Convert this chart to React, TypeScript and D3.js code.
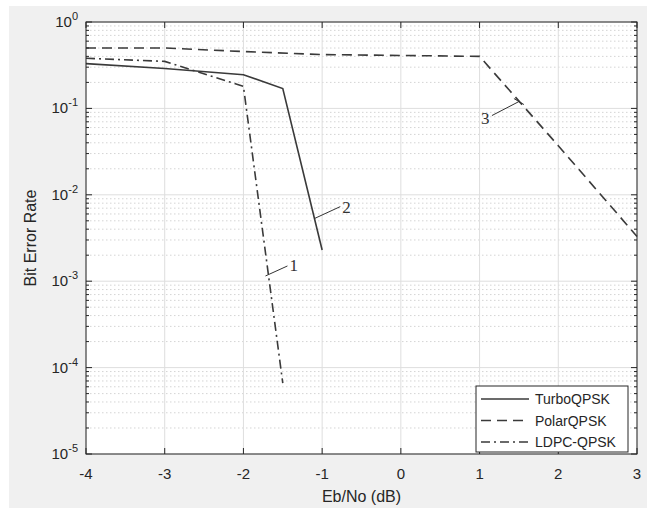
import React from "react";
import * as d3 from "d3";

const ebno = [-4, -3, -2, -1.5, -1];
const turbo = [0.33, 0.29, 0.245, 0.17, 0.0023];
const polarX = [-4, -3, -2, -1, 0, 1, 2, 3];
const polar = [0.5, 0.5, 0.455, 0.42, 0.41, 0.4, 0.037, 0.0033];
const ldpcX = [-4, -3, -2, -1.5];
const ldpc = [0.38, 0.35, 0.18, 0.000066];
const xTicks = [-4, -3, -2, -1, 0, 1, 2, 3];
const yExps = [0, -1, -2, -3, -4, -5];
const seriesNames = ["TurboQPSK", "PolarQPSK", "LDPC-QPSK"];
const annotations = [
  { label: "1", x: -1.72, y: 0.00115 },
  { label: "2", x: -1.1, y: 0.0053 },
  { label: "3", x: 1.5, y: 0.12 },
];

const W = 647, H = 509;
const M = { l: 86, t: 22, r: 637, b: 454 };

export default function App() {
  const x = d3.scaleLinear().domain([-4, 3]).range([M.l, M.r]);
  const y = d3.scaleLog().domain([1e-5, 1]).range([M.b, M.t]);
  const line = d3
    .line<[number, number]>()
    .x((d) => x(d[0]))
    .y((d) => y(d[1]));
  const minor: number[] = [];
  for (let e = -5; e < 0; e++) for (let k = 2; k <= 9; k++) minor.push(k * Math.pow(10, e));
  const col = "#262626";
  const lc = "#3a3a3a";
  const styles = [
    { dash: "none" },
    { dash: "10,6" },
    { dash: "9,4,2,4" },
  ];
  const data: [number, number][][] = [
    ebno.map((v, i) => [v, turbo[i]]),
    polarX.map((v, i) => [v, polar[i]]),
    ldpcX.map((v, i) => [v, ldpc[i]]),
  ];
  const font = "'Liberation Sans', Arial, sans-serif";
  const ann = annotations.map((a) => ({ ...a, px: x(a.x), py: y(a.y) }));
  return (
    <svg width={W} height={H} style={{ position: "absolute", left: 0, top: 0 }}>
      <rect x={0} y={0} width={W} height={H} fill="#ffffff" />
      <rect x={9} y={6} width={W - 9} height={H - 7} fill="#f0f0f0" />
      <rect x={M.l} y={M.t} width={M.r - M.l} height={M.b - M.t} fill="#ffffff" />
      {/* minor grid */}
      {minor.map((v, i) => (
        <line key={"mg" + i} x1={M.l} x2={M.r} y1={y(v)} y2={y(v)} stroke="#d4d4d4" strokeWidth={1} strokeDasharray="1.5,2.5" />
      ))}
      {/* major grid */}
      {yExps.map((e) => (
        <line key={"yg" + e} x1={M.l} x2={M.r} y1={y(Math.pow(10, e))} y2={y(Math.pow(10, e))} stroke="#dedede" strokeWidth={1} />
      ))}
      {xTicks.map((t) => (
        <line key={"xg" + t} x1={x(t)} x2={x(t)} y1={M.t} y2={M.b} stroke="#dedede" strokeWidth={1} />
      ))}
      {/* series */}
      {data.map((d, i) => (
        <path key={"s" + i} d={line(d) || ""} fill="none" stroke={lc} strokeWidth={1.6} strokeDasharray={styles[i].dash} />
      ))}
      {/* annotations */}
      <g stroke="#333" strokeWidth={1} fill="none">
        <line x1={ann[0].px} y1={ann[0].py} x2={ann[0].px + 22} y2={ann[0].py - 10} />
        <line x1={ann[1].px} y1={ann[1].py} x2={ann[1].px + 26} y2={ann[1].py - 12} />
        <line x1={ann[2].px - 27} y1={ann[2].py + 14} x2={ann[2].px} y2={ann[2].py} />
        <line x1={ann[2].px - 5} y1={ann[2].py - 3} x2={ann[2].px + 5} y2={ann[2].py + 3} />
      </g>
      <g fontFamily="'Liberation Serif', 'Times New Roman', serif" fontSize={17} fill="#333">
        <text x={ann[0].px + 24} y={ann[0].py - 5}>{ann[0].label}</text>
        <text x={ann[1].px + 28} y={ann[1].py - 6}>{ann[1].label}</text>
        <text x={ann[2].px - 38} y={ann[2].py + 22}>{ann[2].label}</text>
      </g>
      {/* axes box */}
      <rect x={M.l} y={M.t} width={M.r - M.l} height={M.b - M.t} fill="none" stroke={col} strokeWidth={1} />
      {/* y ticks */}
      {yExps.map((e) => {
        const yy = y(Math.pow(10, e));
        return (
          <g key={"yt" + e}>
            <line x1={M.l} x2={M.l + 6} y1={yy} y2={yy} stroke={col} />
            <line x1={M.r} x2={M.r - 6} y1={yy} y2={yy} stroke={col} />
            <text x={M.l - 8} y={yy + 5} textAnchor="end" fontFamily={font} fontSize={15} fill={col}>
              10<tspan dy={-7} fontSize={11}>{e}</tspan>
            </text>
          </g>
        );
      })}
      {minor.map((v, i) => (
        <g key={"mt" + i}>
          <line x1={M.l} x2={M.l + 3} y1={y(v)} y2={y(v)} stroke={col} />
          <line x1={M.r} x2={M.r - 3} y1={y(v)} y2={y(v)} stroke={col} />
        </g>
      ))}
      {/* x ticks */}
      {xTicks.map((t) => (
        <g key={"xt" + t}>
          <line x1={x(t)} x2={x(t)} y1={M.b} y2={M.b - 6} stroke={col} />
          <line x1={x(t)} x2={x(t)} y1={M.t} y2={M.t + 6} stroke={col} />
          <text x={x(t)} y={M.b + 25} textAnchor="middle" fontFamily={font} fontSize={15} fill={col}>
            {t}
          </text>
        </g>
      ))}
      <text x={(M.l + M.r) / 2} y={502} textAnchor="middle" fontFamily={font} fontSize={16} fill={col}>
        Eb/No (dB)
      </text>
      <text transform={`translate(36,${(M.t + M.b) / 2}) rotate(-90)`} textAnchor="middle" fontFamily={font} fontSize={16} fill={col}>
        Bit Error Rate
      </text>
      {/* legend */}
      <rect x={476} y={386} width={152} height={66} fill="#ffffff" stroke={col} strokeWidth={1} />
      {seriesNames.map((n, i) => (
        <g key={"lg" + i}>
          <line x1={481} x2={529} y1={399 + i * 21.5} y2={399 + i * 21.5} stroke={lc} strokeWidth={1.6} strokeDasharray={styles[i].dash} />
          <text x={535} y={404 + i * 21.5} fontFamily={font} fontSize={14} fill={col}>
            {n}
          </text>
        </g>
      ))}
    </svg>
  );
}
